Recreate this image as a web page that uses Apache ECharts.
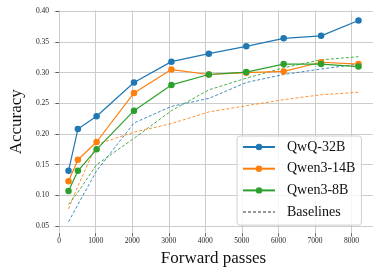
<!DOCTYPE html>
<html>
<head>
<meta charset="utf-8">
<script src="https://cdn.jsdelivr.net/npm/echarts@6/dist/echarts.min.js"></script>
<style>html,body{margin:0;padding:0;background:#fff;}#c{width:381px;height:272px;}</style>
</head>
<body>
<div id="c"></div>
<script>
var passes = [256, 512, 1024, 2048, 3072, 4096, 5120, 6144, 7168, 8192];
var qwq32b = [0.140, 0.208, 0.229, 0.284, 0.318, 0.331, 0.343, 0.356, 0.360, 0.385];
var qwen14b = [0.123, 0.158, 0.187, 0.267, 0.305, 0.297, 0.300, 0.302, 0.317, 0.314];
var qwen8b = [0.107, 0.140, 0.175, 0.238, 0.280, 0.297, 0.301, 0.314, 0.314, 0.310];
var qwq32bBase = [0.057, 0.085, 0.140, 0.218, 0.245, 0.258, 0.284, 0.297, 0.306, 0.314];
var qwen14bBase = [0.078, 0.115, 0.183, 0.203, 0.217, 0.236, 0.246, 0.256, 0.264, 0.268];
var qwen8bBase = [0.085, 0.105, 0.150, 0.193, 0.238, 0.272, 0.291, 0.308, 0.321, 0.326];
var xTicks = [0, 1000, 2000, 3000, 4000, 5000, 6000, 7000, 8000];
var yTicks = [0.05, 0.10, 0.15, 0.20, 0.25, 0.30, 0.35, 0.40];

var FONT = 'Liberation Serif';
var BLUE = '#1f77b4', ORANGE = '#ff7f0e', GREEN = '#2ca02c';

function pairs(ys) { return passes.map(function (x, i) { return [x, ys[i]]; }); }

function mainSeries(name, ys, color, z) {
  return {
    name: name, type: 'line', data: pairs(ys), z: z,
    symbol: 'circle', symbolSize: 6.5,
    lineStyle: { color: color, width: 1.2 },
    itemStyle: { color: color },
    emphasis: { disabled: true }, animation: false
  };
}
function baseSeries(name, ys, color) {
  return {
    name: name, type: 'line', data: pairs(ys), z: 2,
    symbol: 'none', showSymbol: false,
    lineStyle: { color: color, width: 1, type: [3, 2], opacity: 0.85 },
    itemStyle: { color: color },
    emphasis: { disabled: true }, animation: false
  };
}

var chart = echarts.init(document.getElementById('c'), null, { renderer: 'canvas' });
chart.setOption({
  animation: false,
  backgroundColor: '#fff',
  grid: { left: 44, right: 8, top: 10.4, bottom: 38, containLabel: false },
  xAxis: {
    type: 'value', min: -141, max: 8589,
    name: 'Forward passes', nameLocation: 'middle', nameGap: 11,
    nameTextStyle: { fontFamily: FONT, fontSize: 17, color: '#111' },
    axisLine: { show: false },
    axisTick: { show: true, customValues: xTicks, length: 3.5, lineStyle: { color: '#444', width: 0.8 } },
    axisLabel: { customValues: xTicks, fontFamily: FONT, fontSize: 7.5, color: '#262626', margin: 4,
      formatter: function (v) { return String(v); } },
    splitLine: { show: true, lineStyle: { color: '#cccccc', width: 1 } }
  },
  yAxis: {
    type: 'value', min: 0.0385, max: 0.4015,
    name: 'Accuracy', nameLocation: 'middle', nameGap: 20, nameRotate: 90,
    nameTextStyle: { fontFamily: FONT, fontSize: 17, color: '#111' },
    axisLine: { show: false },
    axisTick: { show: true, customValues: yTicks, length: 3.5, lineStyle: { color: '#444', width: 0.8 } },
    axisLabel: { customValues: yTicks, fontFamily: FONT, fontSize: 7.5, color: '#262626', margin: 5,
      formatter: function (v) { return v.toFixed(2); } },
    splitLine: { show: true, lineStyle: { color: '#cccccc', width: 1 } }
  },
  legend: {
    data: ['QwQ-32B', 'Qwen3-14B', 'Qwen3-8B', { name: 'Baselines', itemStyle: { opacity: 0 } }],
    orient: 'vertical', left: 237, top: 136,
    padding: [3, 6, 5, 5], itemGap: 5.7,
    itemWidth: 32, itemHeight: 8,
    backgroundColor: 'rgba(255,255,255,0.8)', borderColor: '#d0d0d0', borderWidth: 1, borderRadius: 3,
    textStyle: { fontFamily: FONT, fontSize: 14, color: '#111', lineHeight: 16, padding: [0, 0, 0, 7] }
  },
  series: [
    baseSeries('QwQ-32B base', qwq32bBase, BLUE),
    baseSeries('Qwen3-14B base', qwen14bBase, ORANGE),
    baseSeries('Qwen3-8B base', qwen8bBase, GREEN),
    mainSeries('QwQ-32B', qwq32b, BLUE, 3),
    mainSeries('Qwen3-14B', qwen14b, ORANGE, 4),
    mainSeries('Qwen3-8B', qwen8b, GREEN, 5),
    { name: 'Baselines', type: 'line', data: [], symbol: 'none',
      lineStyle: { color: '#999', width: 1.2, type: [3, 2] }, itemStyle: { color: '#999' } }
  ]
});
</script>
</body>
</html>
